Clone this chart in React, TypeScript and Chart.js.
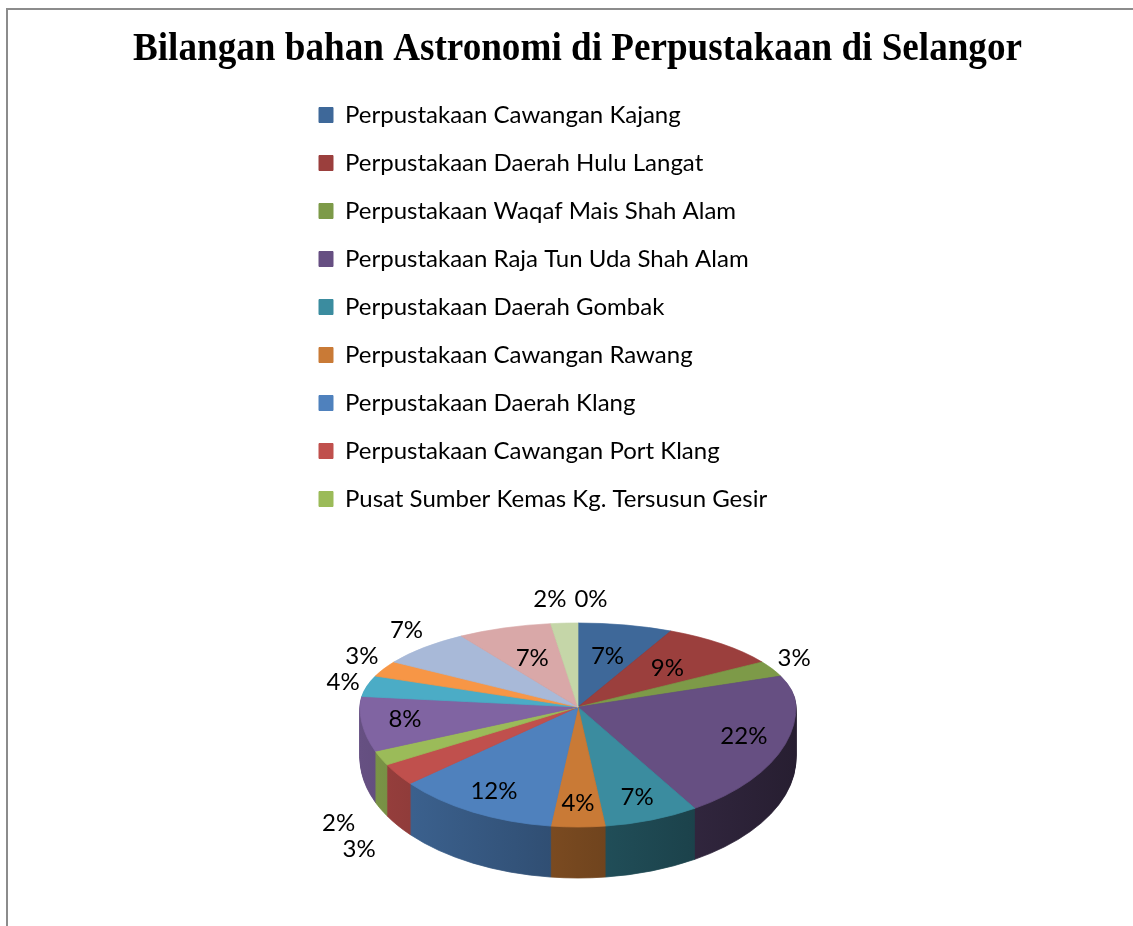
import React, { useEffect, useRef } from 'react';
import { Chart, registerables } from 'chart.js';

Chart.register(...registerables);

const TITLE = 'Bilangan bahan Astronomi di Perpustakaan di Selangor';

const CATEGORIES = [
  'Perpustakaan Cawangan Kajang',
  'Perpustakaan Daerah Hulu Langat',
  'Perpustakaan Waqaf Mais Shah Alam',
  'Perpustakaan Raja Tun Uda Shah Alam',
  'Perpustakaan Daerah Gombak',
  'Perpustakaan Cawangan Rawang',
  'Perpustakaan Daerah Klang',
  'Perpustakaan Cawangan Port Klang',
  'Pusat Sumber Kemas Kg. Tersusun Gesir',
  'Kategori 10',
  'Kategori 11',
  'Kategori 12',
  'Kategori 13',
  'Kategori 14',
  'Kategori 15',
  'Kategori 16',
];

const VALUES = [7, 9, 3, 22, 7, 4, 12, 3, 2, 8, 4, 3, 7, 7, 2, 0];

const COLORS = [
  '#3E6899', '#9B3F3D', '#7D9A48', '#664F82', '#3B8C9F', '#C97A36',
  '#4F81BD', '#C0504D', '#9BBB59', '#8064A2', '#4BACC6', '#F79646',
  '#A8B9D8', '#D9A8A8', '#C5D6A8', '#B4A6C8',
];

// label placement (Excel "best fit" result): true = outside the slice
const LABEL_OUTSIDE = [false, false, true, false, false, false, false, true, true, false, true, true, true, false, true, true];
const LEGEND_COUNT = 9;

// layout
const CANVAS_W = 1139;
const CANVAS_H = 916;
const PIE_R = 218;
const PIE_BACK = 84;
const PIE_FRONT = 120;
const PIE_DEPTH = 51;
const PIE_BOTTOM_GAP = 219;
const LEGEND_LEFT = 287;
const LEGEND_TOP = 69;
const LABEL_FAMILY = 'Lato, "Open Sans", sans-serif';
const LABEL_SIZE = 24;

function shade(hex: string, f: number): string {
  const n = parseInt(hex.slice(1), 16);
  const r = Math.round(((n >> 16) & 255) * f);
  const g = Math.round(((n >> 8) & 255) * f);
  const b = Math.round((n & 255) * f);
  return `rgb(${r},${g},${b})`;
}

function pieGeom(chart: any) {
  const arcs = chart.getDatasetMeta(0).data as any[];
  const r = arcs.length ? arcs[0].outerRadius : PIE_R;
  return {
    arcs,
    r,
    cx: Math.round(chart.width / 2),
    cy: chart.height - PIE_BOTTOM_GAP,
    k1: PIE_BACK / r,
    k2: PIE_FRONT / r,
  };
}

const pie3d = {
  id: 'pie3d',
  afterLayout(chart: any) {
    const lg = chart.legend;
    if (!lg) return;
    const dx = LEGEND_LEFT - lg.left;
    const dy = LEGEND_TOP - lg.top;
    lg.left += dx;
    lg.right = chart.width;
    lg.width = lg.right - lg.left;
    lg.top += dy; lg.bottom += dy;
  },
  beforeDatasetsDraw(chart: any) {
    const { arcs, r, cx, cy, k1, k2 } = pieGeom(chart);
    if (!arcs.length) return false;
    const ctx = chart.ctx as CanvasRenderingContext2D;
    const ox = arcs[0].x;
    const oy = arcs[0].y;
    const grads = arcs.map((_a: any, i: number) => {
      const g = ctx.createLinearGradient(ox - r, 0, ox + r, 0);
      const c = COLORS[i];
      g.addColorStop(0, shade(c, 0.8));
      g.addColorStop(0.5, shade(c, 0.58));
      g.addColorStop(1, shade(c, 0.38));
      return g;
    });
    const drawLayer = (t: number, side: boolean) => {
      for (const front of [false, true]) {
        ctx.save();
        ctx.beginPath();
        if (front) ctx.rect(0, cy + t, chart.width, chart.height);
        else ctx.rect(0, 0, chart.width, cy + t);
        ctx.clip();
        ctx.translate(cx, cy + t);
        ctx.scale(1, front ? k2 : k1);
        ctx.translate(-ox, -oy);
        arcs.forEach((arc: any, i: number) => {
          if (side) {
            const o = arc.options;
            arc.options = { ...o, backgroundColor: grads[i], borderColor: grads[i] };
            arc.draw(ctx);
            arc.options = o;
          } else {
            arc.draw(ctx);
          }
        });
        ctx.restore();
      }
    };
    for (let t = PIE_DEPTH; t >= 1; t--) drawLayer(t, true);
    drawLayer(0, false);
    return false;
  },
  afterDraw(chart: any) {
    const { arcs, r, cx, cy, k1, k2 } = pieGeom(chart);
    const ctx = chart.ctx as CanvasRenderingContext2D;
    const data = chart.data.datasets[0].data as number[];
    const total = data.reduce((s, v) => s + v, 0);
    ctx.save();
    ctx.font = `${LABEL_SIZE}px ${LABEL_FAMILY}`;
    ctx.fillStyle = '#000';
    ctx.textAlign = 'center';
    ctx.textBaseline = 'middle';
    const h = LABEL_SIZE;
    const items: any[] = [];
    const outside: any[] = [];
    arcs.forEach((arc: any, i: number) => {
      const txt = Math.round((data[i] / total) * 100) + '%';
      const a = (arc.startAngle + arc.endAngle) / 2;
      const c = Math.cos(a);
      const s = Math.sin(a);
      const kk = s < 0 ? k1 : k2;
      const w = ctx.measureText(txt).width;
      const it: any = { txt, w, x: 0, y: 0 };
      if (!LABEL_OUTSIDE[i]) {
        const f = s < 0 ? 0.62 : 0.8;
        it.x = cx + f * r * c;
        it.y = cy + f * r * kk * s;
      } else {
        const front = s > 0;
        it.x = cx + r * c + c * (w / 2 + (front ? 30 : 8));
        it.y = cy + r * kk * s + (front ? PIE_DEPTH : 0) + s * (h / 2 + (front ? 26 : 12));
        for (const p of outside) {
          const dx = it.x - p.x;
          const dy = it.y - p.y;
          const needX = (it.w + p.w) / 2 + 8 - Math.abs(dx);
          const needY = h + 2 - Math.abs(dy);
          if (needX > 0 && needY > 0) {
            if (needX < needY * 1.5) {
              const sg = dx >= 0 ? 1 : -1;
              it.x += (sg * needX) / 2;
              p.x -= (sg * needX) / 2;
            } else {
              const sg = dy >= 0 ? 1 : -1;
              it.y += (sg * needY) / 2;
              p.y -= (sg * needY) / 2;
            }
          }
        }
        outside.push(it);
      }
      items.push(it);
    });
    items.forEach((it) => ctx.fillText(it.txt, it.x, it.y));
    ctx.restore();
  },
};

export default function App() {
  const ref = useRef<HTMLCanvasElement | null>(null);
  useEffect(() => {
    if (!ref.current) return;
    const chart = new Chart(ref.current, {
      type: 'pie',
      data: {
        labels: CATEGORIES,
        datasets: [
          {
            data: VALUES,
            backgroundColor: COLORS,
            borderColor: COLORS,
            borderWidth: 1,
            radius: PIE_R,
            clip: false,
          } as any,
        ],
      },
      options: {
        responsive: false,
        animation: false,
        events: [],
        layout: { padding: { left: 125, right: 125, top: 0, bottom: 0 } },
        plugins: {
          title: {
            display: true,
            text: TITLE,
            color: '#000',
            font: { family: '"Liberation Serif", "Times New Roman", serif', size: 40, weight: 'bold' },
            padding: { top: 16, bottom: 4 },
          },
          legend: {
            display: true,
            position: 'left',
            align: 'start',
            fullSize: false,
            labels: {
              boxWidth: 14,
              boxHeight: 15,
              padding: 24,
              color: '#000',
              font: { family: LABEL_FAMILY, size: LABEL_SIZE },
              filter: (item: any) => item.index < LEGEND_COUNT,
            },
          },
          tooltip: { enabled: false },
        },
      } as any,
      plugins: [pie3d as any],
    });
    return () => chart.destroy();
  }, []);
  return (
    <div
      style={{
        position: 'fixed',
        left: 6,
        top: 8,
        width: CANVAS_W,
        height: CANVAS_H,
        borderLeft: '2px solid #8c8c8c',
        borderTop: '2px solid #8c8c8c',
        overflow: 'hidden',
        background: '#fff',
      }}
    >
      <canvas ref={ref} width={CANVAS_W} height={CANVAS_H} style={{ display: 'block' }} />
    </div>
  );
}
